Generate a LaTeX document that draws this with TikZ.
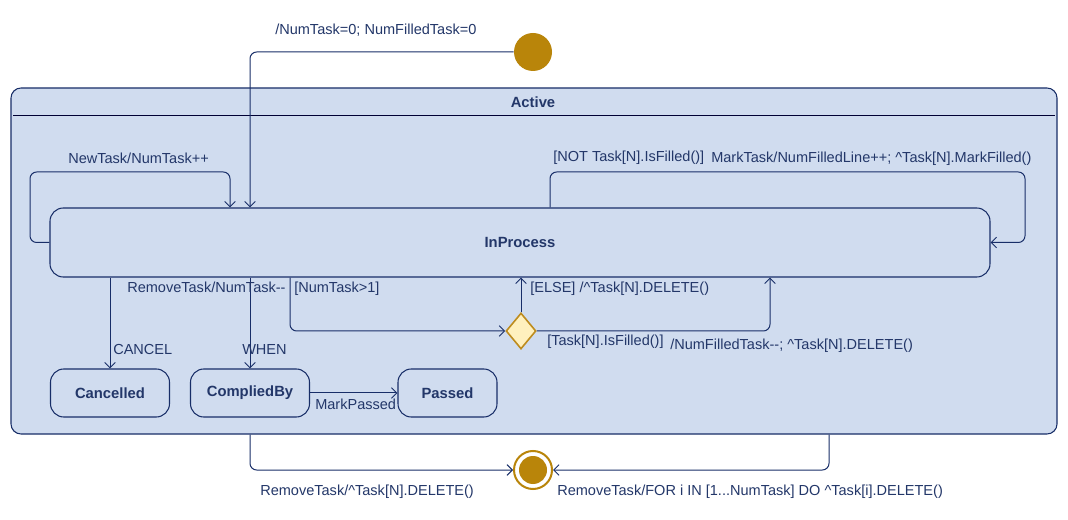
\documentclass[tikz,border=0pt]{standalone}
\usepackage{fontspec}
\setmainfont{Liberation Sans}
\usetikzlibrary{arrows.meta,shapes.geometric}
\definecolor{linec}{RGB}{24,46,104}
\definecolor{fillc}{RGB}{208,220,239}
\definecolor{textc}{RGB}{35,55,105}
\definecolor{goldc}{RGB}{185,133,10}
\definecolor{decfill}{RGB}{255,240,190}
\definecolor{decline}{RGB}{190,140,30}
\tikzset{
  every node/.style={font=\fontsize{10.9}{13}\selectfont, text=textc},
  composite/.style={draw=linec, fill=fillc, line width=0.8pt, rounded corners=7.5pt, inner sep=0},
  statebox/.style={draw=linec, fill=fillc, line width=0.8pt, rounded corners=10pt, inner sep=0, font=\fontsize{11.1}{13}\selectfont\bfseries},
  tr/.style={draw=linec, line width=0.75pt, rounded corners=5pt, -{Straight Barb[length=4pt,width=8pt]}},
  lbl/.style={anchor=base west, inner sep=0},
  initst/.style={circle, fill=goldc, minimum size=28.5pt, inner sep=0},
  finalst/.style={circle, draw=goldc, line width=1.5pt, fill=white, minimum size=28.5pt, inner sep=0,
    path picture={\fill[goldc] (path picture bounding box.center) circle (10.5pt);}},
  decision/.style={diamond, draw=decline, fill=decfill, line width=1.2pt, minimum width=22.5pt, minimum height=27pt, inner sep=0}
}
\begin{document}
\begin{tikzpicture}[x=0.75pt,y=-0.75pt]
\useasboundingbox[fill=white] (0,0) rectangle (1068,520);
% composite state
\node[composite, minimum width=784.5pt, minimum height=259.5pt] (active) at (534,261) {};
\node[font=\fontsize{11.1}{13}\selectfont\bfseries] (activeTitle) at (533,102) {Active};
\draw[draw=black!80!blue, line width=0.7pt] (13,115) -- (1055,115);
% states
\node[statebox, minimum width=705pt, minimum height=51.75pt] (ip) at (520,242.5) {InProcess};
\node[statebox, minimum width=89.25pt, minimum height=36pt] (canc) at (110,393) {Cancelled};
\node[statebox, minimum width=89.25pt, minimum height=36pt] (comp) at (250,393) {CompliedBy};
\node[statebox, minimum width=74.25pt, minimum height=36pt] (pass) at (447.5,393) {Passed};
\node[decision] (dec) at (521,331) {};
\node[initst] (init) at (533,52) {};
\node[finalst] (fin) at (533,470) {};
% transitions
\draw[tr] (init.west) -| (250,0|-ip.north);
\draw[tr] (ip.west) -| (30,172) -| (230,0|-ip.north);
\draw[tr] (550,0|-ip.north) |- (1025,172) |- (ip.east);
\draw[tr] (canc.north|-ip.south) -- (canc.north);
\draw[tr] (comp.north|-ip.south) -- (comp.north);
\draw[tr] (comp.east) -- (pass.west);
\draw[tr] (290,0|-ip.south) |- (dec.west);
\draw[tr] (dec.north) -- (dec.north|-ip.south);
\draw[tr] (dec.east) -| (770,0|-ip.south);
\draw[tr] (250,0|-active.south) |- (fin.west);
\draw[tr] (829,0|-active.south) |- (fin.east);
% labels
\node[lbl] (l1) at (275,35) {/NumTask=0; NumFilledTask=0};
\node[lbl] (l2) at (68,164) {NewTask/NumTask++};
\node[lbl] (l3) at (553,162) {[NOT Task[N].IsFilled()]};
\node[lbl] (l4) at (711,163) {MarkTask/NumFilledLine++; \textasciicircum Task[N].MarkFilled()};
\node[lbl] (l5) at (127,293) {RemoveTask/NumTask-{}-};
\node[lbl] (l6) at (294,293) {[NumTask>1]};
\node[lbl] (l7) at (530,293) {[ELSE] /\textasciicircum Task[N].DELETE()};
\node[lbl] (l8) at (113,354) {CANCEL};
\node[lbl] (l9) at (242,354) {WHEN};
\node[lbl] (l10) at (315,410) {MarkPassed};
\node[lbl] (l11) at (547,346) {[Task[N].IsFilled()]};
\node[lbl] (l12) at (670,350) {/NumFilledTask-{}-; \textasciicircum Task[N].DELETE()};
\node[lbl] (l13) at (260,495) {RemoveTask/\textasciicircum Task[N].DELETE()};
\node[lbl] (l14) at (557,495) {RemoveTask/FOR i IN [1...NumTask] DO \textasciicircum Task[i].DELETE()};
\end{tikzpicture}
\end{document}
